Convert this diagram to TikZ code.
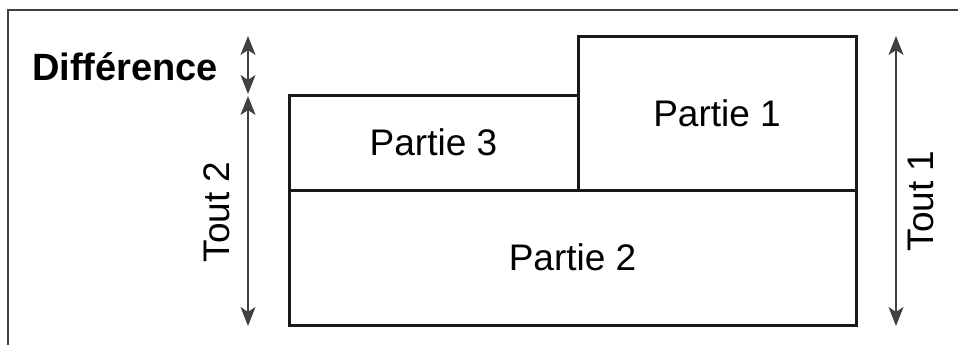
\documentclass[tikz,border=0pt]{standalone}
\usepackage{fontspec}
\setmainfont{Liberation Sans}
\usetikzlibrary{arrows.meta}
\begin{document}
\begin{tikzpicture}[x=1pt,y=-1pt,
  partbox/.style={draw=black!90, line width=3pt, rectangle, inner sep=0pt, font=\fontsize{37}{44}\selectfont},
  frameline/.style={draw=black!75, line width=1.5pt},
  dimarrow/.style={draw=black!75, line width=1.5pt, {Stealth[length=19pt,width=15pt,inset=5pt]}-{Stealth[length=19pt,width=15pt,inset=5pt]}},
  lbl/.style={font=\fontsize{37}{44}\selectfont, inner sep=0pt}]
\useasboundingbox (0,0) rectangle (958,345);
% frame
\coordinate (fl) at (8,345);
\coordinate (fc) at (8,10);
\coordinate (fr) at (958,10);
\draw[frameline] (fl) -- (fc) -- (fr);
% boxes
\node[partbox, minimum width=567pt, minimum height=135pt] (p2) at (572.5,257.5) {Partie 2};
\node[partbox, minimum width=289pt, minimum height=95pt] (p3) at (433.5,142.5) {Partie 3};
\node[partbox, minimum width=278pt, minimum height=153pt] (p1) at (717,113.5) {Partie 1};
% arrow coordinates
\coordinate (dtop) at (248,36);
\coordinate (dbot) at (248,94);
\coordinate (ttop) at (248,96);
\coordinate (tbot) at (248,326);
\coordinate (rtop) at (896,36);
\coordinate (rbot) at (896,326);
\draw[dimarrow] (dtop) -- (dbot);
\draw[dimarrow] (ttop) -- (tbot);
\draw[dimarrow] (rtop) -- (rbot);
% labels
\node[lbl, font=\fontsize{38}{45}\selectfont\bfseries, anchor=west] (diff) at (32,67) {Différence};
\node[lbl, rotate=90] (t2) at (217,212) {Tout 2};
\node[lbl, rotate=90] (t1) at (921,201) {Tout 1};
\end{tikzpicture}
\end{document}
